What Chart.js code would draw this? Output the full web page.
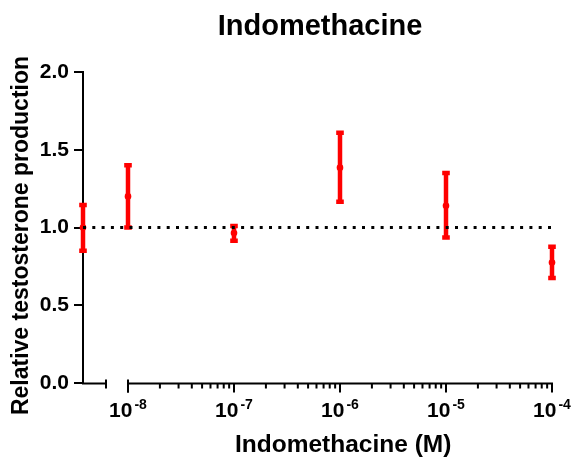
<!DOCTYPE html>
<html><head><meta charset="utf-8">
<script src="https://cdn.jsdelivr.net/npm/chart.js@4/dist/chart.umd.min.js"></script>
<style>html,body{margin:0;padding:0;background:#fff}canvas{display:block}</style>
</head><body>
<canvas id="c" width="577" height="461"></canvas>
<script>
const chartTitle = 'Indomethacine';
const xAxisTitle = 'Indomethacine (M)';
const yAxisTitle = 'Relative testosterone production';
const groups = ['Control', '1e-8', '1e-7', '1e-6', '1e-5', '1e-4'];
const logConc = [-8.4245, -8, -7, -6, -5, -4]; // control sits at the start of the axis
const means = [1.00, 1.20, 0.965, 1.385, 1.14, 0.775];
const errLow = [0.85, 1.00, 0.915, 1.165, 0.935, 0.675];
const errHigh = [1.145, 1.40, 1.01, 1.61, 1.35, 0.877];
const xTickExponents = [-8, -7, -6, -5, -4];
const yTicks = [0, 0.5, 1.0, 1.5, 2.0];
const referenceLevel = 1.0;

const FONT = '"Liberation Sans", Arial, Helvetica, sans-serif';
const RED = '#ff0000';

const custom = {
  id: 'custom',
  beforeDatasetsDraw(chart) {
    const { ctx, scales: { x, y } } = chart;
    ctx.save();
    ctx.strokeStyle = RED;
    ctx.lineWidth = 4.5;
    ctx.lineCap = 'butt';
    for (let i = 0; i < logConc.length; i++) {
      const px = x.getPixelForValue(logConc[i]);
      const pl = y.getPixelForValue(errLow[i]);
      const ph = y.getPixelForValue(errHigh[i]);
      ctx.beginPath(); ctx.moveTo(px, pl); ctx.lineTo(px, ph); ctx.stroke();
      ctx.beginPath();
      ctx.moveTo(px - 3.8, pl); ctx.lineTo(px + 3.8, pl);
      ctx.moveTo(px - 3.8, ph); ctx.lineTo(px + 3.8, ph);
      ctx.stroke();
    }
    ctx.restore();
  },
  afterDraw(chart) {
    const { ctx, scales: { x, y } } = chart;
    ctx.save();
    const y0 = y.getPixelForValue(0) + 0.5;
    const xStart = x.getPixelForValue(xTickExponents[0]);
    const xEnd = x.getPixelForValue(xTickExponents[xTickExponents.length - 1]);
    const breakEnd = xStart - 22;
    ctx.strokeStyle = '#000';
    ctx.lineWidth = 2;
    ctx.beginPath();
    ctx.moveTo(x.left - 1, y0); ctx.lineTo(breakEnd, y0);
    ctx.moveTo(breakEnd, y0 - 4); ctx.lineTo(breakEnd, y0 + 5);
    ctx.moveTo(xStart, y0 - 4); ctx.lineTo(xStart, y0 + 9);
    ctx.moveTo(xStart, y0); ctx.lineTo(xEnd + 1, y0);
    ctx.stroke();
    ctx.beginPath();
    xTickExponents.forEach((e, idx) => {
      const p = x.getPixelForValue(e);
      ctx.moveTo(p, y0); ctx.lineTo(p, y0 + 9);
      if (idx < xTickExponents.length - 1) {
        for (let k = 2; k <= 9; k++) {
          const pm = x.getPixelForValue(e + Math.log10(k));
          ctx.moveTo(pm, y0); ctx.lineTo(pm, y0 + 5);
        }
      }
    });
    ctx.stroke();

    // tick labels 10^e
    ctx.fillStyle = '#000';
    ctx.textBaseline = 'alphabetic';
    ctx.textAlign = 'left';
    xTickExponents.forEach(e => {
      const p = x.getPixelForValue(e);
      ctx.font = 'bold 21px ' + FONT;
      const wb = ctx.measureText('10').width;
      ctx.font = 'bold 14px ' + FONT;
      const sup = '-' + Math.abs(e);
      const ws = ctx.measureText(sup).width;
      const sx = p - (wb + 2 + ws) / 2;
      ctx.font = 'bold 21px ' + FONT;
      ctx.fillText('10', sx, 417);
      ctx.font = 'bold 14px ' + FONT;
      ctx.fillText(sup, sx + wb + 2, 409);
    });

    // titles
    ctx.font = 'bold 29px ' + FONT;
    ctx.textAlign = 'center';
    ctx.fillText(chartTitle, 320, 35);
    ctx.font = 'bold 24.5px ' + FONT;
    ctx.textAlign = 'left';
    ctx.fillText(xAxisTitle, 235, 452);
    ctx.save();
    ctx.translate(28, 235.5);
    ctx.rotate(-Math.PI / 2);
    ctx.font = 'bold 23px ' + FONT;
    ctx.textAlign = 'center';
    ctx.fillText(yAxisTitle, 0, 0);
    ctx.restore();
    ctx.restore();
  }
};

new Chart(document.getElementById('c'), {
  type: 'scatter',
  data: {
    datasets: [
      {
        type: 'line',
        label: 'reference',
        data: [{ x: logConc[0], y: referenceLevel }, { x: logConc[logConc.length - 1], y: referenceLevel }],
        borderColor: '#000',
        borderWidth: 3,
        borderDash: [3, 6.3],
        pointRadius: 0,
        fill: false,
        clip: false
      },
      {
        label: 'mean',
        data: logConc.map((v, i) => ({ x: v, y: means[i] })),
        backgroundColor: RED,
        borderColor: RED,
        pointRadius: 3.3,
        pointBorderWidth: 0,
        clip: false
      }
    ]
  },
  options: {
    responsive: false,
    animation: false,
    devicePixelRatio: 1,
    layout: { padding: { left: 0, top: 72, right: 25, bottom: 78 } },
    plugins: { legend: { display: false }, title: { display: false }, tooltip: { enabled: false } },
    scales: {
      x: {
        type: 'linear',
        min: logConc[0],
        max: xTickExponents[xTickExponents.length - 1],
        display: false
      },
      y: {
        min: 0,
        max: 2,
        afterFit: s => { s.width = 83; },
        afterBuildTicks: s => { s.ticks = yTicks.map(v => ({ value: v })); },
        ticks: {
          color: '#000',
          font: { family: FONT, size: 21, weight: 'bold' },
          padding: 5,
          callback: v => Number(v).toFixed(1)
        },
        grid: { drawOnChartArea: false, drawTicks: true, tickLength: 9, color: '#000', lineWidth: 2 },
        border: { color: '#000', width: 2 }
      }
    }
  },
  plugins: [custom]
});
</script>
</body></html>
